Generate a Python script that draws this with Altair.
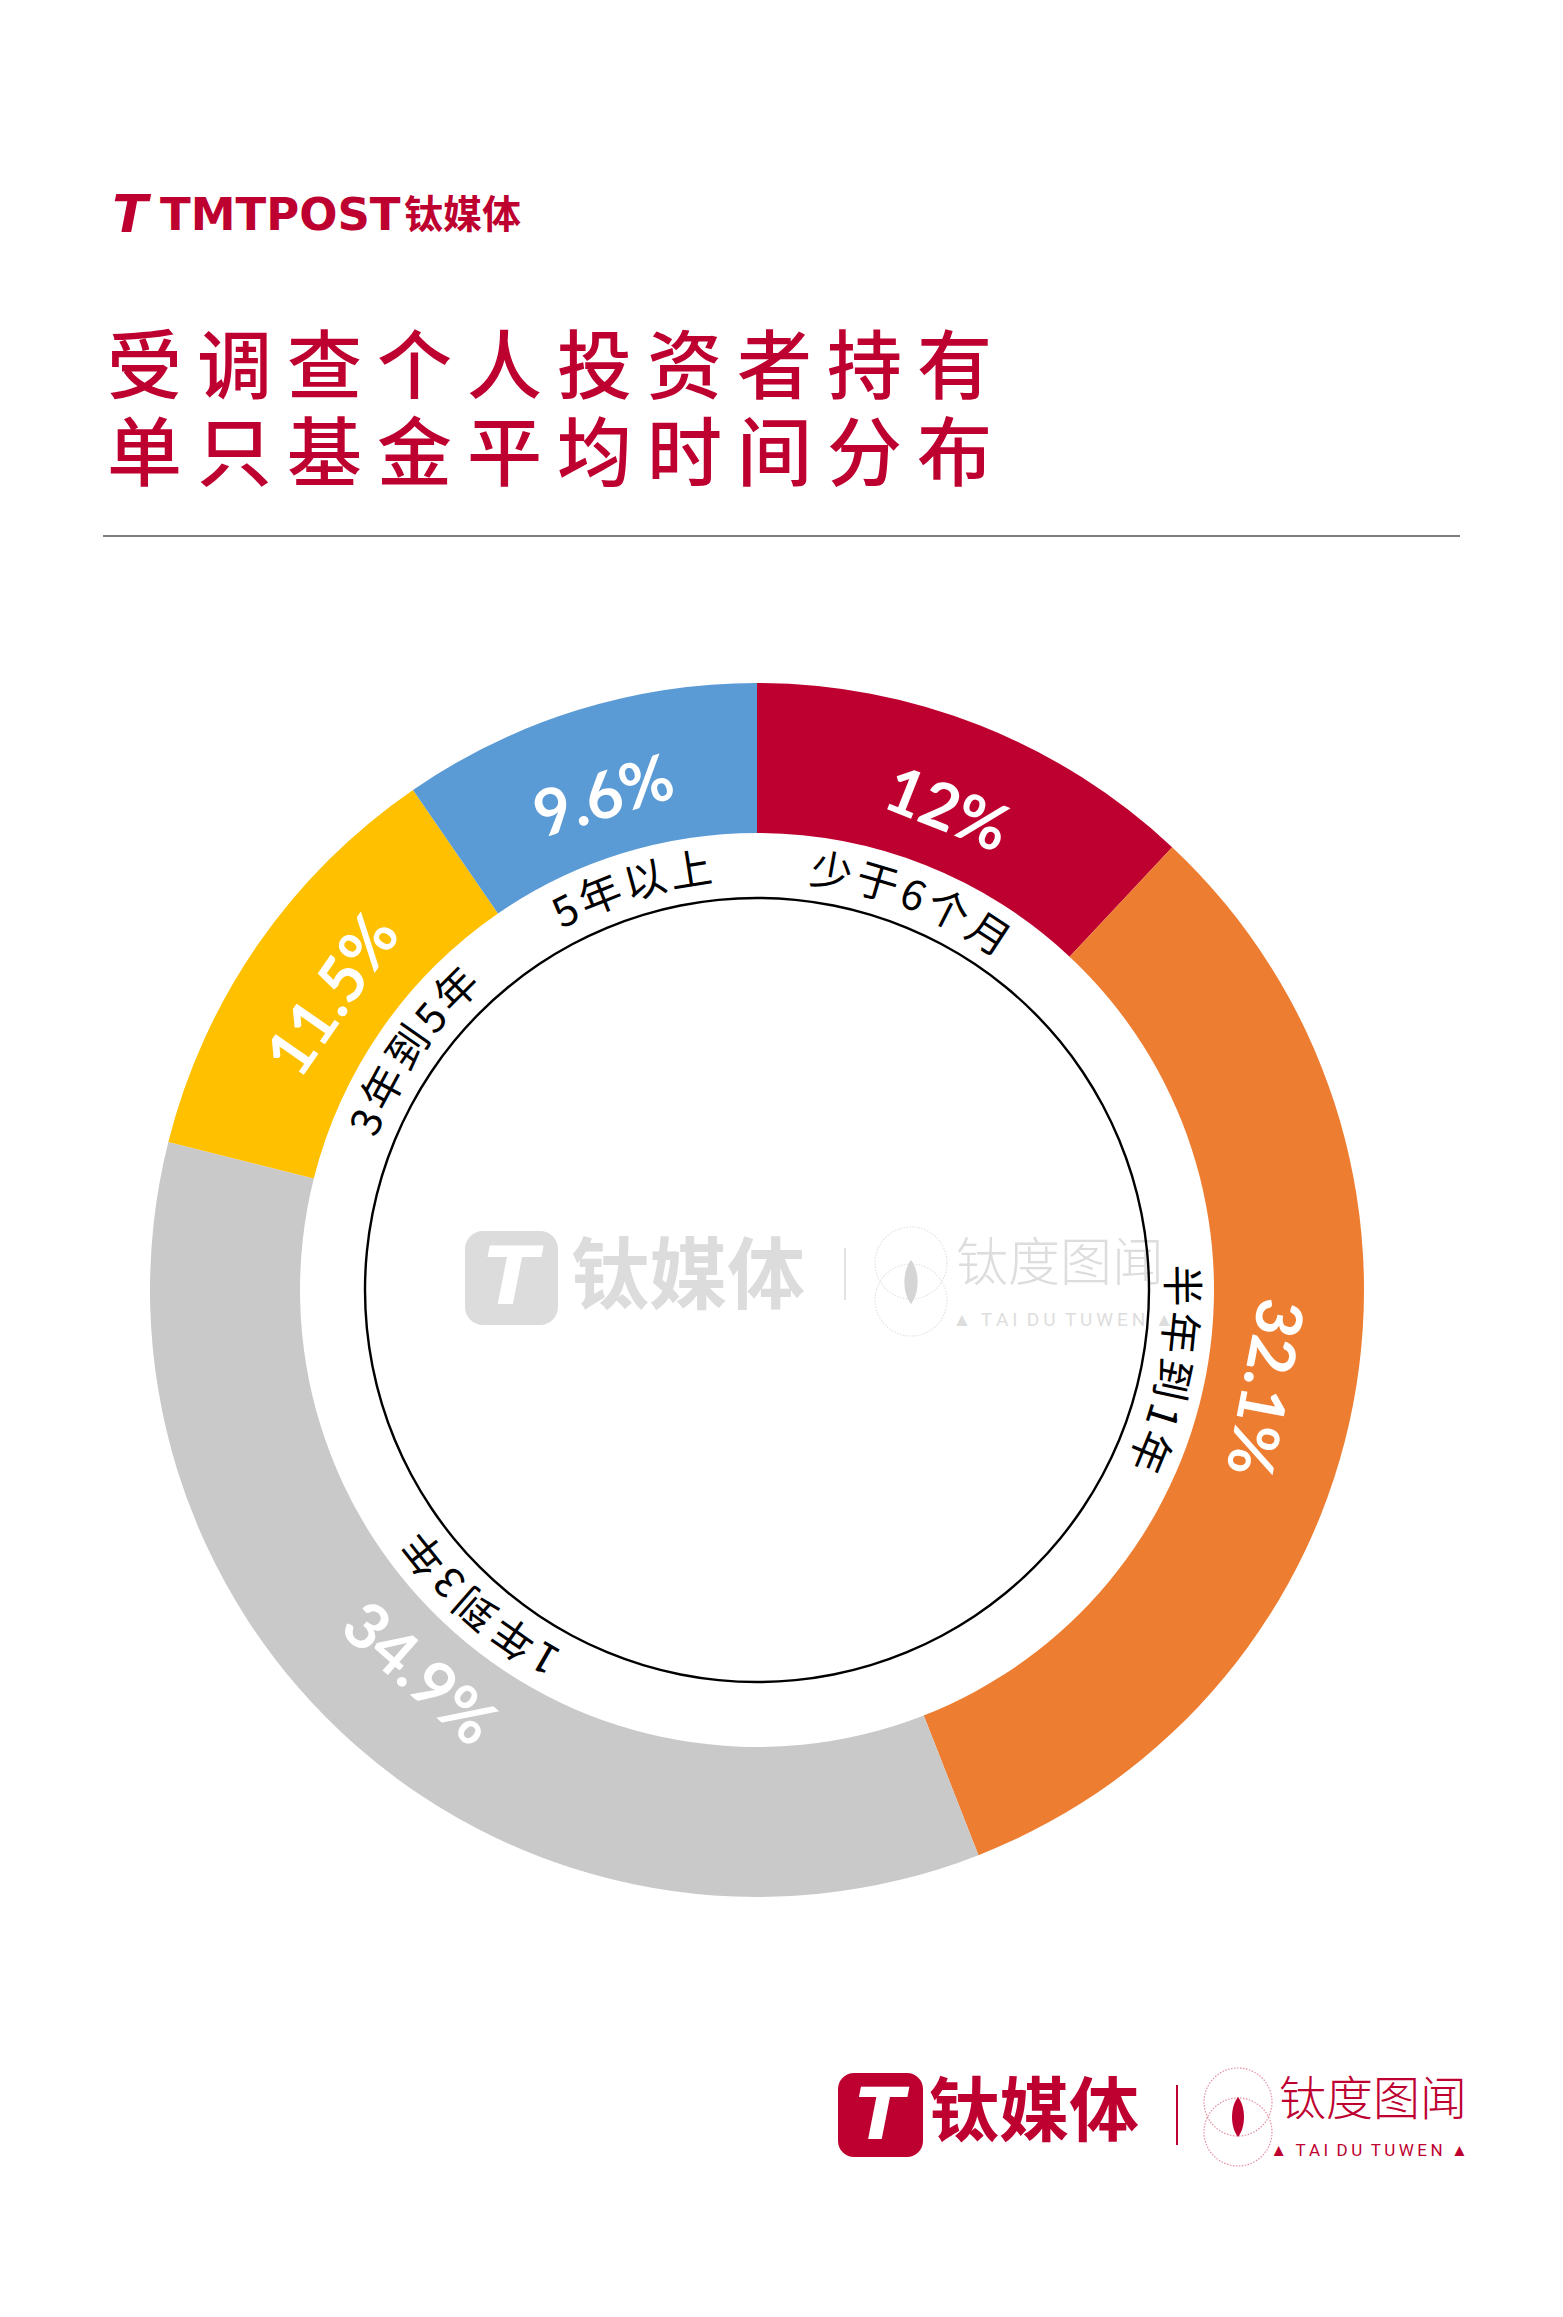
import math
import altair as alt
import pandas as pd

# ---------------- data ----------------
categories = ["少于6个月", "半年到1年", "1年到3年", "3年到5年", "5年以上"]
shares = [12.0, 32.1, 34.9, 11.5, 9.6]
share_labels = ["12%", "32.1%", "34.9%", "11.5%", "9.6%"]
colors = ["#BE0030", "#ED7D31", "#C9C9C9", "#FFC000", "#5B9BD5"]
title_lines = ["受调查个人投资者持有", "单只基金平均时间分布"]

# ---------------- layout ----------------
W, H = 1547, 2301
CX, CY = 749, 1282          # donut centre (chart coords)
R_OUT, R_IN = 607, 457
R_CIRCLE = 392
R_PCT = 514
R_CAT = 423
CAT_FS = 42
RED = "#BE0030"

total = sum(shares)
starts, ends, mids = [], [], []
acc = 0.0
for v in shares:
    starts.append(acc)
    ends.append(acc + v)
    mids.append(acc + v / 2)
    acc += v


def mid_rot(m):
    deg = m / total * 360
    if 180 < deg < 270:
        deg -= 180
    return deg


arcs = pd.DataFrame({
    "cat": categories, "start": starts, "end": ends, "mid": mids,
    "pct": share_labels, "rot": [mid_rot(m) for m in mids],
})

# characters of the category labels laid along the arc
rows = []
for cat, m in zip(categories, mids):
    mid_rad = m / total * 2 * math.pi
    widths = [CAT_FS * 0.56 if c.isdigit() else CAT_FS for c in cat]
    gap = 5
    L = sum(widths) + gap * (len(widths) - 1)
    s = -L / 2
    for c, w in zip(cat, widths):
        th = mid_rad + (s + w / 2) / R_CAT
        rows.append({"ch": c, "pos": th / (2 * math.pi) * total, "rot": math.degrees(th)})
        s += w + gap
chars = pd.DataFrame(rows)

# title lines, letter-spaced with thin spaces
TS = "\u2009"
title_df = pd.DataFrame({
    "line": [TS.join(t) for t in title_lines],
    "y": [362, 449],
})

theta_scale = alt.Scale(domain=[0, total], range=[0, 2 * math.pi])
color_scale = alt.Scale(domain=categories, range=colors)

ring = alt.Chart(arcs).mark_arc(x=CX, y=CY, outerRadius=R_OUT, innerRadius=R_IN).encode(
    theta=alt.Theta("start:Q", scale=theta_scale, stack=None),
    theta2="end:Q",
    color=alt.Color("cat:N", scale=color_scale, legend=None),
)

circle = alt.Chart(pd.DataFrame({"a": [0.0], "b": [total]})).mark_arc(
    x=CX, y=CY, outerRadius=R_CIRCLE + 1.2, innerRadius=R_CIRCLE - 1.2, color="black"
).encode(theta=alt.Theta("a:Q", scale=theta_scale, stack=None), theta2="b:Q")

pct = alt.Chart(arcs).mark_text(
    x=CX, y=CY, radius=R_PCT, font="Lato", fontWeight="bold", fontSize=64,
    color="white", align="center", baseline="middle",
).encode(
    theta=alt.Theta("mid:Q", scale=theta_scale, stack=None),
    text="pct:N",
    angle=alt.Angle("rot:Q", scale=None),
)

cat_text = alt.Chart(chars).mark_text(
    x=CX, y=CY, radius=R_CAT, font="Noto Sans CJK SC", fontSize=CAT_FS,
    color="black", align="center", baseline="middle",
).encode(
    theta=alt.Theta("pos:Q", scale=theta_scale, stack=None),
    text="ch:N",
    angle=alt.Angle("rot:Q", scale=None),
)

title = alt.Chart(title_df).mark_text(
    font="Noto Sans CJK SC", fontWeight=500, fontSize=75, color=RED,
    align="left", baseline="middle", x=99,
).encode(
    y=alt.Y("y:Q", scale=None, axis=None),
    text="line:N",
)

one = pd.DataFrame({"t": [""]})


def label(text, x, y, **props):
    return alt.Chart(pd.DataFrame({"t": [text]})).mark_text(**props).encode(
        x=alt.value(x), y=alt.value(y), text="t:N")


def rrect(x1, x2, y1, y2, color, r):
    return alt.Chart(one).mark_rect(cornerRadius=r, color=color).encode(
        x=alt.value(x1), x2=alt.value(x2), y=alt.value(y1), y2=alt.value(y2))


def vline(x, y1, y2, color, w):
    return alt.Chart(one).mark_rule(color=color, strokeWidth=w).encode(
        x=alt.value(x), y=alt.value(y1), y2=alt.value(y2))


def ring_pt(x, y, d, color):
    return alt.Chart(one).mark_point(shape="circle", size=d * d, filled=False,
                                     color=color, strokeWidth=1.2, strokeDash=[1.5, 1.5]).encode(
        x=alt.value(x), y=alt.value(y))


EYE = "M0,-1 C0.4,-0.5 0.4,0.5 0,1 C-0.4,0.5 -0.4,-0.5 0,-1 Z"


def eye(x, y, h, color):
    return alt.Chart(one).mark_point(shape=EYE, size=h * h, filled=True, color=color,
                                     opacity=1).encode(x=alt.value(x), y=alt.value(y))


rule = alt.Chart(one).mark_rule(color="#555555", strokeWidth=1.5).encode(
    x=alt.value(95), x2=alt.value(1452), y=alt.value(528))

NB = "\u00a0"
TAIDU = "▲" + NB * 2 + (NB * 2).join(TS.join(w) for w in ["TAI", "DU", "TUWEN"]) + NB * 2 + "▲"

# top logo
top_logo = [
    label("T", 122, 208, font="DejaVu Sans", fontWeight="bold", fontStyle="italic",
          fontSize=52, color=RED, align="center", baseline="middle"),
    label("TMTPOST", 152, 208, font="DejaVu Sans", fontWeight="bold", fontSize=45,
          color=RED, align="left", baseline="middle"),
    label("钛媒体", 396, 208, font="Noto Sans CJK SC", fontWeight="bold", fontSize=39,
          color=RED, align="left", baseline="middle"),
]

# watermark
WM = "#DCDCDC"
watermark = [
    rrect(457, 550, 1223, 1317, WM, 18),
    label("T", 503, 1272, font="DejaVu Sans", fontWeight="bold", fontStyle="italic",
          fontSize=80, color="white", align="center", baseline="middle"),
    label("钛媒体", 563, 1272, font="Noto Sans CJK SC", fontWeight="bold", fontSize=78,
          color=WM, align="left", baseline="middle"),
    vline(837, 1240, 1292, "#E2E2E2", 2),
    ring_pt(903, 1255, 72, "#D8D8D8"),
    ring_pt(903, 1292, 72, "#D8D8D8"),
    eye(903, 1274, 44, "#D5D5D5"),
    label("钛度图闻", 948, 1257, font="Noto Sans CJK SC", fontWeight=300, fontSize=52,
          color="#DDDDDD", align="left", baseline="middle"),
    label(TAIDU, 1055, 1312, font="Roboto", fontSize=19,
          color="#DDDDDD", align="center", baseline="middle"),
]

# bottom logo
bottom_logo = [
    rrect(830, 915, 2065, 2149, RED, 16),
    label("T", 872, 2109, font="DejaVu Sans", fontWeight="bold", fontStyle="italic",
          fontSize=72, color="white", align="center", baseline="middle"),
    label("钛媒体", 921, 2107, font="Noto Sans CJK SC", fontWeight="bold", fontSize=70,
          color=RED, align="left", baseline="middle"),
    vline(1169, 2077, 2137, RED, 2),
    ring_pt(1230, 2094, 68, "#D9607A"),
    ring_pt(1230, 2124, 68, "#D9607A"),
    eye(1230, 2109, 40, RED),
    label("钛度图闻", 1271, 2093, font="Noto Sans CJK SC", fontWeight=300, fontSize=47,
          color=RED, align="left", baseline="middle"),
    label(TAIDU, 1361, 2143, font="Roboto", fontSize=17,
          color=RED, align="center", baseline="middle"),
]

chart = alt.layer(
    *watermark, ring, circle, pct, cat_text, title, rule, *top_logo, *bottom_logo
).properties(
    width=W, height=H, padding=0,
    autosize=alt.AutoSizeParams(type="none"),
).configure(
    background="white",
    view=alt.ViewConfig(stroke=None),
)

chart.save("out.html", embed_options={"renderer": "svg", "actions": False})
